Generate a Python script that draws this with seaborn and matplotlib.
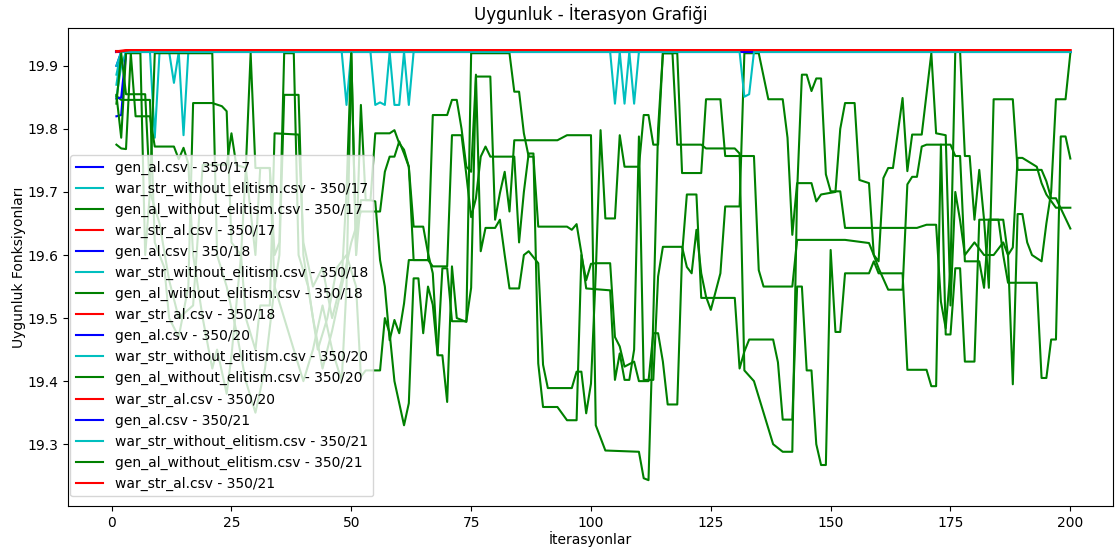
import matplotlib
matplotlib.use("Agg")
import pandas as pd
import matplotlib.pyplot as plt
import seaborn as sns

# runs and files in the order they appear in the legend
runs = ['350/17', '350/18', '350/20', '350/21']
files = ['gen_al.csv', 'war_str_without_elitism.csv',
         'gen_al_without_elitism.csv', 'war_str_al.csv']
colors = ['b', 'c', 'g', 'r']

# (iterasyon, uygunluk) pairs
gen_al_17 = [(1, 19.82), (2, 19.822), (3, 19.922), (200, 19.922)]
gen_al_18 = [(1, 19.848), (2, 19.85), (3, 19.922), (200, 19.922)]
gen_al_20 = [(1, 19.90), (2, 19.922), (7, 19.922), (8, 19.925), (9, 19.925),
             (10, 19.922), (200, 19.922)]
gen_al_21 = [(1, 19.922), (200, 19.922)]

war_wo_17 = [(1, 19.886), (2, 19.922), (8, 19.922), (9, 19.786), (10, 19.922),
             (12, 19.922), (13, 19.873), (14, 19.922), (15, 19.79), (16, 19.922),
             (48, 19.922), (49, 19.838), (50, 19.922), (200, 19.922)]
war_wo_18 = [(1, 19.85), (2, 19.90), (3, 19.922), (54, 19.922), (55, 19.838),
             (56, 19.842), (57, 19.838), (58, 19.922), (59, 19.838), (60, 19.838),
             (61, 19.922), (62, 19.838), (63, 19.922), (200, 19.922)]
war_wo_20 = [(1, 19.87), (2, 19.922), (104, 19.922), (105, 19.84), (106, 19.922),
             (107, 19.84), (108, 19.922), (109, 19.84), (110, 19.922), (200, 19.922)]
war_wo_21 = [(1, 19.90), (2, 19.922), (131, 19.922), (132, 19.851), (133, 19.855),
             (134, 19.922), (200, 19.922)]

gen_wo_17 = [(1, 19.852), (2, 19.846), (8, 19.846), (9, 19.62), (11, 19.58), (12, 19.50),
             (14, 19.47), (16, 19.55), (17, 19.841), (21, 19.841), (23, 19.836), (24, 19.828),
             (25, 19.62), (27, 19.60), (28, 19.50), (30, 19.45), (31, 19.52), (33, 19.52),
             (34, 19.793), (39, 19.791), (40, 19.62), (42, 19.55), (44, 19.58), (46, 19.50),
             (48, 19.56), (49, 19.70), (50, 19.92), (51, 19.60), (52, 19.838), (53, 19.687),
             (54, 19.687), (55, 19.793), (58, 19.793), (59, 19.798), (60, 19.777), (61, 19.767),
             (62, 19.740), (63, 19.645), (65, 19.645), (66, 19.603), (67, 19.571), (68, 19.441),
             (69, 19.441), (70, 19.367), (71, 19.582), (72, 19.50), (74, 19.494), (75, 19.92),
             (83, 19.92), (84, 19.859), (85, 19.859), (86, 19.793), (87, 19.756), (88, 19.756),
             (89, 19.645), (95, 19.645), (96, 19.640), (97, 19.649), (98, 19.603), (99, 19.547),
             (104, 19.544), (105, 19.402), (106, 19.444), (107, 19.402), (108, 19.402),
             (109, 19.45), (110, 19.788), (111, 19.402), (113, 19.402), (114, 19.566),
             (115, 19.613), (119, 19.613), (120, 19.581), (121, 19.571), (122, 19.640),
             (123, 19.571), (124, 19.534), (125, 19.513), (127, 19.571), (128, 19.677),
             (131, 19.677), (132, 19.92), (135, 19.92), (137, 19.847), (140, 19.847),
             (141, 19.786), (142, 19.632), (143, 19.714), (146, 19.714), (147, 19.685),
             (148, 19.696), (151, 19.70), (152, 19.80), (153, 19.841), (155, 19.841),
             (156, 19.719), (158, 19.714), (159, 19.60), (160, 19.590), (161, 19.722),
             (162, 19.738), (163, 19.738), (165, 19.849), (166, 19.733), (167, 19.791),
             (169, 19.791), (171, 19.92), (172, 19.793), (174, 19.79), (175, 19.52),
             (176, 19.70), (177, 19.655), (178, 19.60), (180, 19.62), (182, 19.60),
             (184, 19.60), (186, 19.62), (187, 19.60), (188, 19.395), (189, 19.665),
             (190, 19.665), (191, 19.62), (192, 19.60), (194, 19.59), (195, 19.65),
             (196, 19.70), (197, 19.847), (199, 19.847), (200, 19.92)]
gen_wo_18 = [(1, 19.775), (2, 19.769), (3, 19.768), (4, 19.92), (5, 19.82), (8, 19.82),
             (9, 19.772), (13, 19.772), (14, 19.752), (15, 19.770), (16, 19.745), (17, 19.60),
             (19, 19.50), (21, 19.42), (22, 19.45), (24, 19.38), (25, 19.44), (27, 19.60),
             (28, 19.738), (29, 19.92), (30, 19.738), (33, 19.738), (34, 19.60), (35, 19.62),
             (36, 19.92), (38, 19.92), (39, 19.60), (41, 19.55), (43, 19.45), (45, 19.50),
             (47, 19.58), (49, 19.60), (51, 19.55), (52, 19.407), (53, 19.417), (56, 19.417),
             (57, 19.50), (58, 19.476), (59, 19.40), (60, 19.365), (61, 19.330), (62, 19.365),
             (63, 19.563), (64, 19.563), (65, 19.476), (66, 19.550), (67, 19.521), (68, 19.442),
             (69, 19.579), (70, 19.579), (71, 19.495), (74, 19.495), (75, 19.548), (76, 19.886),
             (77, 19.606), (78, 19.643), (80, 19.643), (81, 19.656), (82, 19.60), (83, 19.547),
             (85, 19.547), (86, 19.600), (87, 19.606), (89, 19.587), (90, 19.426), (91, 19.389),
             (96, 19.389), (97, 19.415), (98, 19.415), (99, 19.349), (100, 19.396),
             (101, 19.571), (102, 19.798), (103, 19.658), (105, 19.658), (106, 19.790),
             (107, 19.740), (110, 19.740), (111, 19.822), (112, 19.822), (113, 19.775),
             (114, 19.775), (115, 19.92), (117, 19.92), (118, 19.775), (123, 19.775),
             (124, 19.769), (130, 19.769), (131, 19.761), (132, 19.417), (134, 19.40),
             (136, 19.35), (138, 19.30), (140, 19.288), (142, 19.288), (143, 19.70),
             (144, 19.886), (145, 19.886), (146, 19.86), (147, 19.88), (148, 19.88),
             (149, 19.728), (150, 19.701), (152, 19.701), (153, 19.643), (168, 19.643),
             (170, 19.648), (172, 19.648), (173, 19.526), (174, 19.484), (175, 19.579),
             (176, 19.923), (177, 19.923), (178, 19.757), (179, 19.757), (180, 19.656),
             (181, 19.735), (182, 19.656), (183, 19.548), (184, 19.847), (188, 19.847),
             (189, 19.735), (194, 19.735), (195, 19.717), (196, 19.690), (197, 19.690),
             (200, 19.642)]
gen_wo_20 = [(1, 19.854), (2, 19.786), (3, 19.92), (6, 19.92), (7, 19.60), (8, 19.70),
             (9, 19.92), (21, 19.92), (22, 19.60), (24, 19.55), (26, 19.48), (28, 19.40),
             (30, 19.35), (32, 19.42), (34, 19.55), (35, 19.60), (36, 19.854), (39, 19.854),
             (40, 19.60), (42, 19.50), (44, 19.42), (46, 19.48), (48, 19.55), (50, 19.62),
             (52, 19.669), (56, 19.669), (57, 19.732), (58, 19.756), (59, 19.756), (60, 19.780),
             (61, 19.761), (62, 19.740), (63, 19.592), (66, 19.592), (67, 19.822), (70, 19.822),
             (71, 19.846), (72, 19.846), (73, 19.800), (74, 19.740), (75, 19.732), (76, 19.883),
             (79, 19.883), (80, 19.656), (81, 19.698), (82, 19.732), (83, 19.669), (84, 19.782),
             (93, 19.782), (95, 19.790), (100, 19.790), (101, 19.33), (103, 19.290),
             (110, 19.288), (111, 19.246), (112, 19.243), (113, 19.50), (114, 19.80),
             (115, 19.92), (118, 19.92), (119, 19.73), (123, 19.73), (124, 19.847),
             (127, 19.847), (128, 19.757), (134, 19.757), (135, 19.576), (136, 19.55),
             (142, 19.55), (143, 19.624), (153, 19.624), (158, 19.619), (159, 19.60),
             (160, 19.579), (162, 19.545), (165, 19.545), (166, 19.712), (167, 19.724),
             (168, 19.724), (169, 19.772), (170, 19.775), (175, 19.775), (176, 19.757),
             (177, 19.757), (178, 19.590), (181, 19.590), (182, 19.548), (183, 19.656),
             (186, 19.656), (187, 19.60), (188, 19.612), (189, 19.754), (190, 19.754),
             (193, 19.74), (194, 19.714), (195, 19.696), (197, 19.675), (200, 19.675)]
gen_wo_21 = [(1, 19.84), (2, 19.92), (3, 19.855), (7, 19.855), (8, 19.70), (10, 19.65),
             (12, 19.56), (14, 19.50), (17, 19.52), (19, 19.743), (24, 19.743), (25, 19.793),
             (26, 19.743), (28, 19.738), (30, 19.60), (31, 19.738), (33, 19.738), (34, 19.55),
             (36, 19.50), (38, 19.45), (40, 19.40), (42, 19.45), (44, 19.52), (46, 19.45),
             (48, 19.40), (49, 19.55), (50, 19.92), (51, 19.60), (52, 19.687), (54, 19.687),
             (55, 19.685), (56, 19.592), (57, 19.550), (58, 19.465), (59, 19.497), (60, 19.476),
             (61, 19.523), (62, 19.592), (66, 19.592), (67, 19.582), (70, 19.582), (71, 19.79),
             (73, 19.79), (74, 19.727), (75, 19.66), (76, 19.69), (77, 19.756), (78, 19.772),
             (79, 19.756), (84, 19.756), (85, 19.62), (86, 19.70), (87, 19.761), (88, 19.761),
             (89, 19.428), (90, 19.359), (93, 19.359), (95, 19.338), (97, 19.338), (98, 19.60),
             (99, 19.56), (100, 19.586), (101, 19.587), (104, 19.587), (105, 19.470),
             (106, 19.455), (107, 19.423), (109, 19.431), (110, 19.40), (112, 19.40),
             (113, 19.476), (114, 19.476), (115, 19.431), (116, 19.363), (118, 19.363),
             (119, 19.60), (120, 19.696), (122, 19.696), (123, 19.532), (130, 19.532),
             (131, 19.42), (132, 19.447), (133, 19.466), (138, 19.466), (139, 19.43),
             (140, 19.339), (142, 19.339), (143, 19.55), (144, 19.55), (145, 19.417),
             (146, 19.417), (147, 19.30), (148, 19.267), (149, 19.267), (150, 19.608),
             (151, 19.478), (152, 19.478), (153, 19.571), (158, 19.571), (159, 19.59),
             (160, 19.571), (165, 19.571), (166, 19.418), (170, 19.418), (171, 19.392),
             (172, 19.392), (173, 19.775), (174, 19.474), (175, 19.474), (176, 19.579),
             (177, 19.579), (178, 19.431), (180, 19.431), (181, 19.656), (185, 19.656),
             (186, 19.60), (187, 19.556), (193, 19.556), (194, 19.405), (195, 19.405),
             (196, 19.466), (197, 19.466), (198, 19.788), (199, 19.788), (200, 19.753)]

war_al_17 = [(1, 19.922), (2, 19.923), (4, 19.925), (200, 19.925)]
war_al_18 = [(1, 19.923), (3, 19.925), (200, 19.925)]
war_al_20 = [(1, 19.924), (200, 19.924)]
war_al_21 = [(1, 19.922), (4, 19.925), (200, 19.925)]

series = {
    '350/17': [gen_al_17, war_wo_17, gen_wo_17, war_al_17],
    '350/18': [gen_al_18, war_wo_18, gen_wo_18, war_al_18],
    '350/20': [gen_al_20, war_wo_20, gen_wo_20, war_al_20],
    '350/21': [gen_al_21, war_wo_21, gen_wo_21, war_al_21],
}

fig, ax = plt.subplots(figsize=(11.15, 5.48), dpi=100)

for run in runs:
    for fname, col, pts in zip(files, colors, series[run]):
        df = pd.DataFrame(pts, columns=['iterasyon', 'uygunluk'])
        sns.lineplot(data=df, x='iterasyon', y='uygunluk', color=col,
                     label=f'{fname} - {run}', ax=ax)

ax.set_title('Uygunluk - İterasyon Grafiği')
ax.set_xlabel('İterasyonlar', labelpad=1)
ax.set_ylabel('Uygunluk Fonksiyonları', labelpad=1)
ax.set_xlim(-9.1, 208.9)
ax.set_ylim(19.202, 19.96)
ax.set_xticks([0, 25, 50, 75, 100, 125, 150, 175, 200])
ax.legend(loc='lower left', bbox_to_anchor=(0.002, 0.02), borderaxespad=0)

fig.subplots_adjust(left=68 / 1115, right=1113 / 1115, bottom=1 - 506 / 548, top=1 - 28 / 548)
fig.savefig('out.png', dpi=100)
